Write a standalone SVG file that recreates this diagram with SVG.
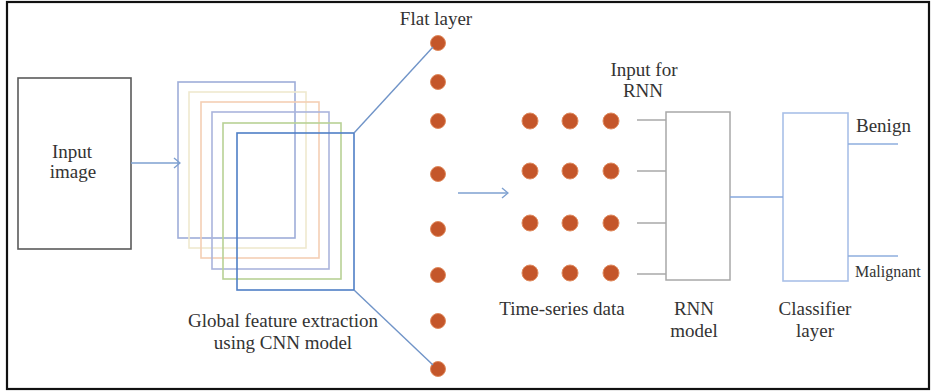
<svg xmlns="http://www.w3.org/2000/svg" width="931" height="391" viewBox="0 0 931 391" font-family="'Liberation Serif', 'DejaVu Serif', serif">
<defs>
<style>
text{font-family:'Liberation Serif','DejaVu Serif',serif;font-size:19px;fill:#333333;text-anchor:middle}
text.start{text-anchor:start}
text.small{font-size:16px}
.dot{fill:#c4562a;stroke:#e08a5e;stroke-width:1}
.cnn{fill:none;stroke-width:1.6}
.conn{fill:none;stroke:#7094c8;stroke-width:1.4}
.gray{fill:none;stroke:#a8a8a8;stroke-width:1.5}
.cls{fill:none;stroke:#a9c0e8;stroke-width:1.6}
</style>
<marker id="chev" viewBox="0 0 10 12" refX="9" refY="6" markerWidth="10" markerHeight="12" markerUnits="userSpaceOnUse" orient="auto">
<path d="M3,1 L9,6 L3,11" fill="none" stroke="#7ea0d0" stroke-width="1.4"/>
</marker>
</defs>
<rect x="0" y="0" width="931" height="391" fill="#fff"/>
<rect x="7" y="2" width="922" height="387" fill="none" stroke="#111" stroke-width="2.2"/>

<g id="input-image">
<rect x="18" y="78" width="113" height="171" fill="none" stroke="#5a5a5a" stroke-width="1.6"/>
<text x="72" y="158">Input</text>
<text x="73" y="178">image</text>
</g>

<g id="cnn">
<rect class="cnn" x="178" y="82" width="117" height="156" stroke="#9eadd9"/>
<rect class="cnn" x="189" y="92" width="117" height="156" stroke="#efe9cf"/>
<rect class="cnn" x="201" y="102" width="118" height="156" stroke="#f4cfb4"/>
<rect class="cnn" x="212" y="112" width="117" height="157" stroke="#aab4dc"/>
<rect class="cnn" x="223" y="123" width="118" height="156" stroke="#b8d195"/>
<rect class="cnn" x="237" y="133" width="117" height="157" stroke="#4f7fc6"/>
<text x="283" y="327">Global feature extraction</text>
<text x="283" y="349">using CNN model</text>
</g>

<g id="flat-layer">
<text x="436" y="25">Flat layer</text>
<circle class="dot" cx="438" cy="43" r="7.5"/>
<circle class="dot" cx="438" cy="82" r="7.5"/>
<circle class="dot" cx="438" cy="121" r="7.5"/>
<circle class="dot" cx="438" cy="174" r="7.5"/>
<circle class="dot" cx="438" cy="229" r="7.5"/>
<circle class="dot" cx="438" cy="275" r="7.5"/>
<circle class="dot" cx="438" cy="321" r="7.5"/>
<circle class="dot" cx="438" cy="369" r="7.5"/>
</g>

<g id="time-series">
<text x="644" y="76">Input for</text>
<text x="643" y="97">RNN</text>
<g>
<circle class="dot" cx="530" cy="121" r="8"/>
<circle class="dot" cx="570" cy="121" r="8"/>
<circle class="dot" cx="611" cy="121" r="8"/>
<circle class="dot" cx="530" cy="171" r="8"/>
<circle class="dot" cx="570" cy="171" r="8"/>
<circle class="dot" cx="611" cy="171" r="8"/>
<circle class="dot" cx="530" cy="223" r="8"/>
<circle class="dot" cx="570" cy="223" r="8"/>
<circle class="dot" cx="611" cy="223" r="8"/>
<circle class="dot" cx="530" cy="273" r="8"/>
<circle class="dot" cx="570" cy="273" r="8"/>
<circle class="dot" cx="611" cy="273" r="8"/>
</g>
<text x="562" y="315">Time-series data</text>
</g>

<g id="rnn-model">
<rect class="gray" x="666" y="112" width="64" height="168"/>
<text x="694" y="315">RNN</text>
<text x="694" y="337">model</text>
</g>

<g id="classifier">
<rect class="cls" x="783" y="113" width="65" height="168"/>
<text x="815" y="315">Classifier</text>
<text x="815" y="337">layer</text>
</g>

<g id="benign">
<text class="start" x="856" y="132">Benign</text>
</g>
<g id="malignant">
<text class="start small" x="855" y="277">Malignant</text>
</g>

<g id="connectors">
<line x1="131" y1="163" x2="180" y2="163" stroke="#7ea0d0" stroke-width="1.4" marker-end="url(#chev)"/>
<line class="conn" x1="354" y1="133" x2="433" y2="47"/>
<line class="conn" x1="354" y1="290" x2="433" y2="365"/>
<line x1="458" y1="193" x2="508" y2="193" stroke="#7ea0d0" stroke-width="1.4" marker-end="url(#chev)"/>
<line class="gray" x1="637" y1="120" x2="666" y2="120"/>
<line class="gray" x1="637" y1="171" x2="666" y2="171"/>
<line class="gray" x1="637" y1="223" x2="666" y2="223"/>
<line class="gray" x1="637" y1="274" x2="666" y2="274"/>
<line x1="730" y1="197" x2="783" y2="197" stroke="#86a7dc" stroke-width="1.5"/>
<line x1="848" y1="144" x2="898" y2="144" stroke="#8eaede" stroke-width="1.6"/>
<line x1="848" y1="256" x2="898" y2="256" stroke="#8eaede" stroke-width="1.6"/>
</g>
</svg>
